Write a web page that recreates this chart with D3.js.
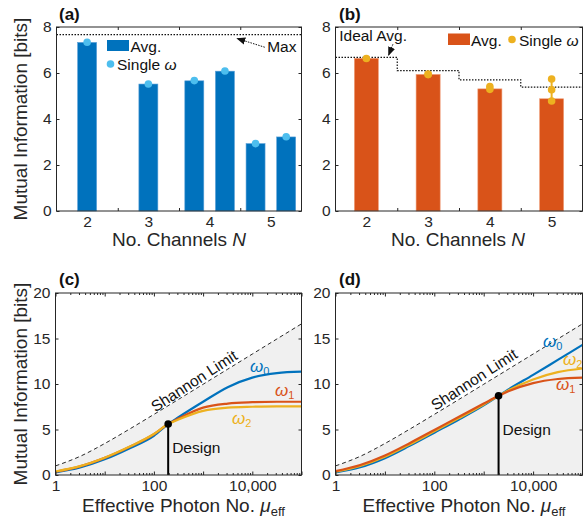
<!DOCTYPE html>
<html>
<head>
<meta charset="UTF-8">
<title>Mutual information vs channels and photon number</title>
<script src="https://cdnjs.cloudflare.com/ajax/libs/d3/7.8.5/d3.min.js"></script>
<style>
    body { margin: 0; background: #fff; }
    svg { font-family: Arial, "Liberation Sans", sans-serif; }
    .tick text { font-family: Arial, "Liberation Sans", sans-serif; font-size: 15.5px; fill: #262626; }
    .tick line { stroke: #262626; }
    .lbl { font-size: 19px; fill: #262626; }
    .ann { font-size: 15.5px; fill: #111; }
    .panel { font-size: 17px; font-weight: bold; fill: #111; }
</style>
</head>
<body>
<svg id="fig" width="583" height="522"></svg>
<script>
// ---------- values ----------
const groupsN = [2, 3, 4, 5];

// (a) one bar per design, placed inside its N group
const aPos = [2, 3, 3.75, 4.25, 4.75, 5.25];
const aAvg = [7.33, 5.52, 5.66, 6.08, 2.93, 3.22];
const aSingle = [7.34, 5.52, 5.67, 6.09, 2.93, 3.23];
const aMax = 7.67;

// (b)
const bAvg = [6.64, 5.94, 5.31, 4.88];
const bSingle = [[6.63], [5.93, 5.95], [5.29, 5.41], [4.78, 5.27, 5.74]];
const bIdeal = [6.68, 6.10, 5.70, 5.39];

// (c), (d) Shannon limit
const muS = [1, 3.16, 10, 31.6, 100, 316, 1000, 3162, 10000, 31623, 100000];
const shannon = [1.0, 2.05, 3.46, 5.03, 6.66, 8.31, 9.97, 11.63, 13.29, 14.95, 16.61];

// (c)
const muC = [1, 3.16, 10, 31.6, 100, 195, 316, 1000, 3162, 10000, 31623, 100000];
const cW0 = [0.28, 0.82, 1.72, 2.92, 4.30, 5.6, 6.35, 8.05, 9.65, 10.7, 11.2, 11.35];
const cW1 = [0.36, 0.95, 1.88, 3.08, 4.48, 5.6, 6.20, 7.40, 7.85, 8.00, 8.05, 8.05];
const cW2 = [0.38, 0.97, 1.90, 3.10, 4.50, 5.6, 6.10, 7.05, 7.40, 7.50, 7.55, 7.55];

// (d)
const muD = [1, 3.16, 10, 31.6, 100, 316, 1000, 2000, 3162, 10000, 31623, 100000];
const dW0 = [0.28, 0.85, 1.85, 3.20, 4.65, 6.10, 7.65, 8.7, 9.40, 11.0, 12.65, 14.3];
const dW1 = [0.42, 1.10, 2.15, 3.50, 4.95, 6.40, 7.85, 8.7, 9.20, 10.1, 10.55, 10.7];
const dW2 = [0.36, 1.00, 2.00, 3.35, 4.80, 6.25, 7.75, 8.7, 9.30, 10.5, 11.30, 11.7];

const designMu = [195, 2000];
const designMI = [5.6, 8.7];

// ---------- drawing ----------
const ink = "#262626";
const blue = "#0072BD", lightBlue = "#4DBEEE", orange = "#D95319", yellow = "#EDB120";
const svg = d3.select("#fig");

const defs = svg.append("defs");
defs.append("marker")
    .attr("id", "arrow")
    .attr("viewBox", "0 0 10 10")
    .attr("refX", 9).attr("refY", 5)
    .attr("markerWidth", 9).attr("markerHeight", 9)
    .attr("markerUnits", "userSpaceOnUse")
    .attr("orient", "auto")
    .append("path").attr("d", "M0,1 L10,5 L0,9 Z").attr("fill", "#111");

function box(x, y) {
    const [x0, x1] = x.range(), [y0, y1] = y.range();
    svg.append("rect")
        .attr("x", x0).attr("y", y1)
        .attr("width", x1 - x0).attr("height", y0 - y1)
        .attr("fill", "none").attr("stroke", ink).attr("stroke-width", 1);
}

function yAxes(x, y, vals) {
    const [x0, x1] = x.range();
    svg.append("g").attr("transform", `translate(${x0},0)`)
        .call(d3.axisLeft(y).tickValues(vals).tickSize(-3).tickPadding(5).tickFormat(d3.format("d")))
        .call(g => g.select(".domain").remove());
    svg.append("g").attr("transform", `translate(${x1},0)`)
        .call(d3.axisRight(y).tickValues(vals).tickSize(-3).tickFormat(""))
        .call(g => g.select(".domain").remove())
        .call(g => g.selectAll("text").remove());
}

function groupAxes(x, y) {
    const [y0, y1] = y.range();
    const bounds = [2.5, 3.5, 4.5];
    svg.append("g").attr("transform", `translate(0,${y0})`)
        .call(d3.axisBottom(x).tickValues(groupsN).tickSize(0).tickPadding(5).tickFormat(d3.format("d")))
        .call(g => g.select(".domain").remove());
    svg.append("g").attr("transform", `translate(0,${y0})`)
        .call(d3.axisBottom(x).tickValues(bounds).tickSize(-3).tickFormat(""))
        .call(g => g.select(".domain").remove())
        .call(g => g.selectAll("text").remove());
    svg.append("g").attr("transform", `translate(0,${y1})`)
        .call(d3.axisTop(x).tickValues(bounds).tickSize(-3).tickFormat(""))
        .call(g => g.select(".domain").remove())
        .call(g => g.selectAll("text").remove());
}

function logAxes(x, y) {
    const [y0, y1] = y.range();
    const majors = d3.range(0, 6).map(k => Math.pow(10, k));
    const minors = [];
    majors.slice(0, 5).forEach(m => { for (let i = 2; i < 10; i++) minors.push(m * i); });
    const fmt = v => (v === 1 || v === 100 || v === 10000) ? d3.format(",")(v) : "";
    [[d3.axisBottom, y0], [d3.axisTop, y1]].forEach(([ax, pos], k) => {
        svg.append("g").attr("transform", `translate(0,${pos})`)
            .call(ax(x).tickValues(majors).tickSize(-3.5).tickPadding(5).tickFormat(k === 0 ? fmt : ""))
            .call(g => g.select(".domain").remove())
            .call(g => g.selectAll("text").filter(function () { return this.textContent === ""; }).remove());
        svg.append("g").attr("transform", `translate(0,${pos})`)
            .call(ax(x).tickValues(minors).tickSize(-2).tickFormat(""))
            .call(g => g.select(".domain").remove())
            .call(g => g.selectAll("text").remove());
    });
    yAxes(x, y, [0, 5, 10, 15, 20]);
}

function yLabel(cy) {
    svg.append("text").attr("class", "lbl")
        .attr("transform", `translate(27,${cy}) rotate(-90)`)
        .attr("text-anchor", "middle")
        .text("Mutual Information [bits]");
}

function singleLabel(t) {
    t.append("tspan").text("Single ");
    t.append("tspan").attr("font-style", "italic").text("ω");
}

// ---- panel (a) ----
const xA = d3.scaleLinear([1.5, 5.5], [56.5, 301.5]);
const yA = d3.scaleLinear([0, 8], [211, 27]);
const wA = xA(1.5 + 0.31) - xA(1.5);

svg.append("g").selectAll("rect")
    .data(d3.zip(aPos, aAvg))
    .join("rect")
    .attr("x", d => xA(d[0]) - wA / 2)
    .attr("y", d => yA(d[1]))
    .attr("width", wA)
    .attr("height", d => yA(0) - yA(d[1]))
    .attr("fill", blue)
    .attr("stroke", "#5aa0d8").attr("stroke-width", 0.6);

svg.append("line")
    .attr("x1", xA(1.5)).attr("x2", xA(5.5))
    .attr("y1", yA(aMax)).attr("y2", yA(aMax))
    .attr("stroke", "#111").attr("stroke-width", 1.2).attr("stroke-dasharray", "1.5,1.5");

svg.append("g").selectAll("circle")
    .data(d3.zip(aPos, aSingle))
    .join("circle")
    .attr("cx", d => xA(d[0])).attr("cy", d => yA(d[1]))
    .attr("r", 3.8).attr("fill", lightBlue);

// Max annotation
svg.append("line")
    .attr("x1", xA(4.9)).attr("y1", yA(7.12))
    .attr("x2", xA(4.45)).attr("y2", yA(7.5))
    .attr("stroke", "#111").attr("stroke-width", 1).attr("stroke-dasharray", "1.5,1.2")
    .attr("marker-end", "url(#arrow)");
svg.append("text").attr("class", "ann")
    .attr("x", xA(4.94)).attr("y", yA(6.9)).text("Max");

// legend (a)
svg.append("rect").attr("x", 107).attr("y", 40).attr("width", 22).attr("height", 11).attr("fill", blue);
svg.append("text").attr("class", "ann").attr("x", 130.5).attr("y", 52).text("Avg.");
svg.append("circle").attr("cx", 110.5).attr("cy", 64).attr("r", 3.8).attr("fill", lightBlue);
svg.append("text").attr("class", "ann").attr("x", 117).attr("y", 69.5).call(singleLabel);

groupAxes(xA, yA);
yAxes(xA, yA, [0, 2, 4, 6, 8]);
box(xA, yA);

// ---- panel (b) ----
const xB = d3.scaleLinear([1.5, 5.5], [335.5, 582.5]);
const yB = d3.scaleLinear([0, 8], [211, 27]);
const wB = xB(1.5 + 0.39) - xB(1.5);

svg.append("g").selectAll("rect")
    .data(d3.zip(groupsN, bAvg))
    .join("rect")
    .attr("x", d => xB(d[0]) - wB / 2)
    .attr("y", d => yB(d[1]))
    .attr("width", wB)
    .attr("height", d => yB(0) - yB(d[1]))
    .attr("fill", orange)
    .attr("stroke", "#f0a27e").attr("stroke-width", 0.6);

// ideal average step line
const idealPts = [[1.5, bIdeal[0]]].concat(d3.zip(groupsN, bIdeal), [[5.5, bIdeal[3]]]);
svg.append("path")
    .attr("d", d3.line().x(d => xB(d[0])).y(d => yB(d[1])).curve(d3.curveStep)(idealPts))
    .attr("fill", "none").attr("stroke", "#111").attr("stroke-width", 1.2)
    .attr("stroke-dasharray", "1.5,1.5");

// single-frequency dots with their spread
bSingle.forEach((vals, i) => {
    const n = groupsN[i];
    if (vals.length > 1) {
        svg.append("line")
            .attr("x1", xB(n)).attr("x2", xB(n))
            .attr("y1", yB(d3.min(vals))).attr("y2", yB(d3.max(vals)))
            .attr("stroke", yellow).attr("stroke-width", 2);
    }
    svg.append("g").selectAll("circle").data(vals).join("circle")
        .attr("cx", xB(n)).attr("cy", d => yB(d))
        .attr("r", 3.8).attr("fill", yellow);
});

svg.append("text").attr("class", "ann")
    .attr("x", xB(1.56)).attr("y", yB(7.38)).text("Ideal Avg.");
svg.append("line")
    .attr("x1", xB(2.43)).attr("y1", yB(7.25))
    .attr("x2", xB(2.36)).attr("y2", yB(6.78))
    .attr("stroke", "#111").attr("stroke-width", 1).attr("stroke-dasharray", "1.5,1.2")
    .attr("marker-end", "url(#arrow)");

// legend (b)
svg.append("rect").attr("x", 448).attr("y", 33.5).attr("width", 22).attr("height", 11.5).attr("fill", orange);
svg.append("text").attr("class", "ann").attr("x", 471).attr("y", 45.5).text("Avg.");
svg.append("circle").attr("cx", 512).attr("cy", 39.5).attr("r", 3.8).attr("fill", yellow);
svg.append("text").attr("class", "ann").attr("x", 519).attr("y", 45.5).call(singleLabel);

groupAxes(xB, yB);
yAxes(xB, yB, [0, 2, 4, 6, 8]);
box(xB, yB);

// x labels of the bar panels
[[xA, 179], [xB, 458]].forEach(([x, cx]) => {
    const t = svg.append("text").attr("class", "lbl")
        .attr("x", cx).attr("y", 246).attr("text-anchor", "middle");
    t.append("tspan").text("No. Channels ");
    t.append("tspan").attr("font-style", "italic").text("N");
});

// ---- panels (c) and (d) ----
function photonPanel(xr, mus, series, dIdx, labels, shannonLbl, designLbl) {
    const x = d3.scaleLog([1, 100000], xr);
    const y = d3.scaleLinear([0, 20], [475, 293]);

    const shPts = d3.zip(muS, shannon);
    svg.append("path")
        .attr("d", d3.area().x(d => x(d[0])).y0(y(0)).y1(d => y(d[1])).curve(d3.curveMonotoneX)(shPts))
        .attr("fill", "#f0f0f0");

    const line = d3.line().x(d => x(d[0])).y(d => y(d[1])).curve(d3.curveMonotoneX);
    series.forEach(s => {
        svg.append("path")
            .attr("d", line(d3.zip(mus, s.v)))
            .attr("fill", "none").attr("stroke", s.c).attr("stroke-width", 2.2);
    });

    // design marker
    const dm = designMu[dIdx], di = designMI[dIdx];
    svg.append("line")
        .attr("x1", x(dm)).attr("x2", x(dm))
        .attr("y1", y(0)).attr("y2", y(di))
        .attr("stroke", "#000").attr("stroke-width", 2);
    svg.append("circle").attr("cx", x(dm)).attr("cy", y(di)).attr("r", 3.8).attr("fill", "#000");
    svg.append("text").attr("class", "ann").attr("font-size", "16px")
        .attr("x", x(dm) + 4).attr("y", designLbl).text("Design");

    svg.append("path")
        .attr("d", line(shPts))
        .attr("fill", "none").attr("stroke", "#111").attr("stroke-width", 0.9)
        .attr("stroke-dasharray", "4,3");

    svg.append("text").attr("class", "ann").attr("font-size", "16px")
        .attr("text-anchor", "middle")
        .attr("transform", `translate(${shannonLbl[0]},${shannonLbl[1]}) rotate(-33)`)
        .text("Shannon Limit");

    labels.forEach(l => {
        const t = svg.append("text").attr("x", l.x).attr("y", l.y)
            .attr("fill", l.c).attr("font-size", "17px");
        t.append("tspan").attr("font-style", "italic").text("ω");
        t.append("tspan").attr("font-size", "11px").attr("dy", 3).text(l.k);
    });

    logAxes(x, y);
    box(x, y);

    const [x0, x1] = xr;
    const t = svg.append("text").attr("class", "lbl")
        .attr("x", (x0 + x1) / 2 + 5).attr("y", 512).attr("text-anchor", "middle");
    t.append("tspan").text("Effective Photon No. ");
    t.append("tspan").attr("font-style", "italic").text("μ");
    t.append("tspan").attr("font-size", "13px").attr("dy", 4).text("eff");
}

photonPanel([55.5, 301.5], muC,
    [{ v: cW0, c: blue }, { v: cW1, c: orange }, { v: cW2, c: yellow }], 0,
    [{ x: 250, y: 372, c: blue, k: "0" }, { x: 275, y: 396, c: orange, k: "1" }, { x: 232, y: 424, c: yellow, k: "2" }],
    [197, 385.5], 453);

photonPanel([335.5, 582.5], muD,
    [{ v: dW0, c: blue }, { v: dW2, c: yellow }, { v: dW1, c: orange }], 1,
    [{ x: 543, y: 347, c: blue, k: "0" }, { x: 563, y: 365, c: yellow, k: "2" }, { x: 556, y: 390, c: orange, k: "1" }],
    [477, 384], 435);

yLabel(119);
yLabel(384);

// panel letters
[["(a)", 59, 20], ["(b)", 339, 20], ["(c)", 59, 285], ["(d)", 339, 285]].forEach(([s, x, y]) => {
    svg.append("text").attr("class", "panel").attr("x", x).attr("y", y).text(s);
});
</script>
</body>
</html>
